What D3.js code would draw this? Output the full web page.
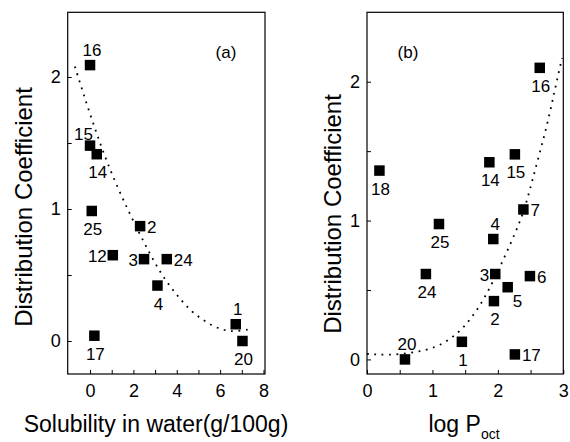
<!DOCTYPE html>
<html>
<head>
<meta charset="utf-8">
<script src="https://cdn.jsdelivr.net/npm/d3@7"></script>
<style>
  body { margin: 0; background: #fff; }
  svg { font-family: "Liberation Sans", Arial, sans-serif; }
  .tick text { font-size: 18px; fill: #000; }
  .tick line { stroke: #000; }
</style>
</head>
<body>
<div id="chart"></div>
<script>
// panel (a): solubility in water vs distribution coefficient
const idsA = ['16', '15', '14', '25', '2', '12', '3', '24', '4', '1', '20', '17'];
const solubility = [0, 0, 0.31, 0.08, 2.31, 1.05, 2.49, 3.54, 3.11, 6.72, 7.03, 0.2];
const distA = [2.09, 1.48, 1.415, 0.985, 0.87, 0.65, 0.62, 0.62, 0.42, 0.127, 0.0, 0.04];
// dotted trend line in (a)
const fitA = [[-0.7, 2.08], [-0.3, 1.87], [0.2, 1.62], [0.7, 1.39], [1.2, 1.19], [1.7, 1.01],
  [2.2, 0.84], [2.7, 0.68], [3.2, 0.53], [3.7, 0.41], [4.2, 0.31], [4.7, 0.22], [5.2, 0.16],
  [5.7, 0.11], [6.2, 0.08], [6.7, 0.07], [7.4, 0.09]];

// panel (b): log P_oct vs distribution coefficient
const idsB = ['16', '15', '14', '18', '7', '25', '4', '24', '3', '6', '5', '2', '1', '20', '17'];
const logP = [2.64, 2.26, 1.87, 0.19, 2.39, 1.10, 1.93, 0.90, 1.96, 2.49, 2.15, 1.94, 1.45, 0.58, 2.26];
const distB = [2.10, 1.477, 1.42, 1.36, 1.08, 0.975, 0.867, 0.615, 0.615, 0.60, 0.52, 0.42, 0.127, 0.0, 0.036];
const fitB = [[0, 0.04], [0.3, 0.03], [0.7, 0.045], [1.1, 0.09], [1.4, 0.19], [1.6, 0.3],
  [1.8, 0.44], [2.05, 0.68], [2.35, 1.0], [2.45, 1.15], [2.6, 1.42], [2.75, 1.68],
  [2.87, 1.94], [2.98, 2.17]];

// where each number label sits relative to its square
const placeA = ['t', 'tl', 'b', 'b', 'r', 'l', 'l', 'r', 'b', 't', 'b', 'b'];
const placeB = ['b', 'b', 'b', 'b', 'r', 'b', 't', 'b', 'l', 'r', 'br', 'b', 'b', 't', 'r'];

const xTicksA = [0, 1, 2, 3, 4, 5, 6, 7, 8];
const xTicksB = [0, 0.5, 1, 1.5, 2, 2.5, 3];
const yTicks = [0, 0.5, 1, 1.5, 2];

const W = 570, H = 442;
const svg = d3.select('#chart').append('svg')
  .attr('width', W)
  .attr('height', H);

let labelOffset = (p) => {
  // returns [dx, dy, anchor]
  if (p == 't') return [2, -9, 'middle'];
  if (p == 'b') return [1, 24, 'middle'];
  if (p == 'l') return [-6, 7, 'end'];
  if (p == 'r') return [7, 7, 'start'];
  if (p == 'tl') return [3, -6, 'end'];
  if (p == 'br') return [5, 20, 'start'];
  return [0, 0, 'middle'];
};

function drawPanel(cfg) {
  const g = svg.append('g').attr('id', cfg.id);
  const x = d3.scaleLinear().domain(cfg.xDomain).range(cfg.xRange);
  const y = d3.scaleLinear().domain(cfg.yDomain).range([374, 12.3]);

  // axes, ticks pointing inward
  const xAxis = d3.axisBottom(x)
    .tickValues(cfg.xTicks)
    .tickSizeInner(-4)
    .tickSizeOuter(0)
    .tickPadding(10)
    .tickFormat(cfg.xFormat);
  g.append('g')
    .attr('transform', `translate(0,${y.range()[0]})`)
    .call(xAxis)
    .call(a => a.select('.domain').remove());

  const yAxis = d3.axisLeft(y)
    .tickValues(yTicks)
    .tickSizeInner(-4)
    .tickSizeOuter(0)
    .tickPadding(cfg.yPad)
    .tickFormat(d => Number.isInteger(d) ? d : '');
  g.append('g')
    .attr('transform', `translate(${x.range()[0]},0)`)
    .call(yAxis)
    .call(a => a.select('.domain').remove());

  // frame
  g.append('rect')
    .attr('x', x.range()[0])
    .attr('y', y.range()[1])
    .attr('width', x.range()[1] - x.range()[0])
    .attr('height', y.range()[0] - y.range()[1])
    .attr('fill', 'none')
    .attr('stroke', '#000')
    .attr('stroke-width', 1.2);

  // dotted trend
  const line = d3.line()
    .x(d => x(d[0]))
    .y(d => y(d[1]))
    .curve(d3.curveBasis);
  g.append('path')
    .attr('d', line(cfg.fit))
    .attr('fill', 'none')
    .attr('stroke', '#000')
    .attr('stroke-width', 1.8)
    .attr('stroke-dasharray', '1.8 5.6');

  const pts = cfg.ids.map((id, i) => ({ id: id, x: cfg.xs[i], y: cfg.ys[i], p: cfg.place[i] }));

  g.selectAll('rect.pt')
    .data(pts)
    .enter()
    .append('rect')
      .attr('class', 'pt')
      .attr('x', d => x(d.x) - 5.25)
      .attr('y', d => y(d.y) - 5.25)
      .attr('width', 10.5)
      .attr('height', 10.5)
      .attr('fill', '#000');

  g.selectAll('text.lbl')
    .data(pts)
    .enter()
    .append('text')
      .attr('class', 'lbl')
      .attr('x', d => x(d.x) + labelOffset(d.p)[0])
      .attr('y', d => y(d.y) + labelOffset(d.p)[1])
      .attr('text-anchor', d => labelOffset(d.p)[2])
      .style('font-size', '17px')
      .text(d => d.id);

  // panel tag
  g.append('text')
    .attr('x', cfg.tag[1])
    .attr('y', 58)
    .attr('text-anchor', 'middle')
    .style('font-size', '17px')
    .text(cfg.tag[0]);

  // y title
  g.append('text')
    .attr('transform', `translate(${cfg.yTitleX},${cfg.yTitleY}) rotate(-90)`)
    .attr('text-anchor', 'middle')
    .style('font-size', '24px')
    .text('Distribution Coefficient');

  return { x: x, y: y, g: g };
}

const pa = drawPanel({
  id: 'panelA',
  ids: idsA, xs: solubility, ys: distA, place: placeA, fit: fitA,
  xDomain: [-1.03, 8.07], xRange: [67.7, 265],
  yDomain: [-0.25, 2.49],
  xTicks: xTicksA,
  xFormat: d => d % 2 == 0 ? d : '',
  yPad: 7,
  tag: ['(a)', 226],
  yTitleX: 32, yTitleY: 207
});

const pb = drawPanel({
  id: 'panelB',
  ids: idsB, xs: logP, ys: distB, place: placeB, fit: fitB,
  xDomain: [0, 3], xRange: [367, 563.3],
  yDomain: [-0.105, 2.5],
  xTicks: xTicksB,
  xFormat: d => Number.isInteger(d) ? d : '',
  yPad: 7,
  tag: ['(b)', 408],
  yTitleX: 341, yTitleY: 214
});

// x titles
pa.g.append('text')
  .attr('x', 156)
  .attr('y', 432)
  .attr('text-anchor', 'middle')
  .style('font-size', '23px')
  .text('Solubility in water(g/100g)');

const tb = pb.g.append('text')
  .attr('x', 464)
  .attr('y', 432)
  .attr('text-anchor', 'middle')
  .style('font-size', '23px');
tb.append('tspan').text('log P');
tb.append('tspan')
  .attr('dy', 7)
  .style('font-size', '14px')
  .text('oct');
</script>
</body>
</html>
